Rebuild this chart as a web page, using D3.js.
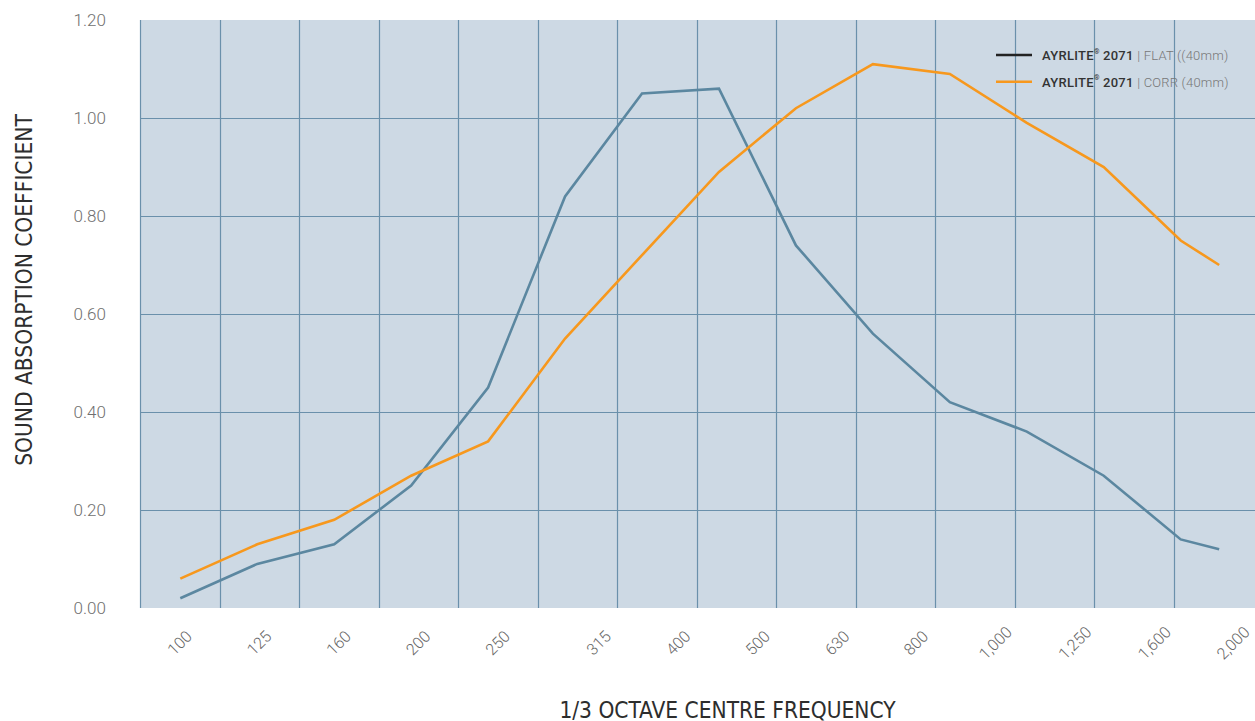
<!DOCTYPE html>
<html>
<head>
<meta charset="utf-8">
<script src="https://cdn.jsdelivr.net/npm/d3@7"></script>
<style>
  html, body { margin: 0; padding: 0; background: #ffffff; }
  svg { display: block; }
</style>
</head>
<body>
<svg id="chart" width="1255" height="721"></svg>
<script>
// ---- data ----
const categories = ["100", "125", "160", "200", "250", "315", "400", "500", "630", "800", "1,000", "1,250", "1,600", "2,000"];
// label slot positions (in category units) as placed in the reference
const labelSlots = [0, 1, 2, 3, 4, 5.27, 6.27, 7.27, 8.27, 9.26, 10.26, 11.26, 12.26, 13.25];
// measurement point slots (the 15th point sits half a step after the 14th)
const pointSlots = [0, 1, 2, 3, 4, 5, 6, 7, 8, 9, 10, 11, 12, 13, 13.5];
const flatValues = [0.02, 0.09, 0.13, 0.25, 0.45, 0.84, 1.05, 1.06, 0.74, 0.56, 0.42, 0.36, 0.27, 0.14, 0.12];
const corrValues = [0.06, 0.13, 0.18, 0.27, 0.34, 0.55, 0.72, 0.89, 1.02, 1.11, 1.09, 0.99, 0.90, 0.75, 0.70];
const yTicks = [0, 0.2, 0.4, 0.6, 0.8, 1.0, 1.2];
const gridValues = [0.2, 0.4, 0.6, 0.8, 1.0];
const seriesNames = [
  { bold: "AYRLITE", reg: "2071", rest: "| FLAT ((40mm)" },
  { bold: "AYRLITE", reg: "2071", rest: "| CORR (40mm)" }
];

// ---- layout ----
const plot = { left: 140, right: 1253, top: 20, bottom: 608 };
const svg = d3.select("#chart");

const xBand = d3.scaleBand().domain(categories).range([plot.left, plot.right]).paddingInner(0).paddingOuter(0);
const bw = xBand.bandwidth();
const xSlot = d3.scaleLinear().domain([0, 1]).range([plot.left + bw / 2, plot.left + bw * 1.5]);
const xPoint = d3.scaleLinear().domain([0, 13]).range([180.3, 1180.7]);
const y = d3.scaleLinear().domain([0, 1.2]).range([plot.bottom, plot.top]);

// background
svg.append("rect")
  .attr("x", plot.left).attr("y", plot.top)
  .attr("width", plot.right - plot.left + 2).attr("height", plot.bottom - plot.top)
  .attr("fill", "#cdd9e4");

// grid
const gridColor = "#6a90ab";
svg.append("g").selectAll("line.v").data(categories).join("line")
  .attr("x1", d => Math.round(xBand(d)) + 0.5).attr("x2", d => Math.round(xBand(d)) + 0.5)
  .attr("y1", plot.top).attr("y2", plot.bottom)
  .attr("stroke", gridColor).attr("stroke-width", 1.2);
svg.append("g").selectAll("line.h").data(gridValues).join("line")
  .attr("x1", plot.left).attr("x2", plot.right + 2)
  .attr("y1", d => Math.round(y(d)) + 0.5).attr("y2", d => Math.round(y(d)) + 0.5)
  .attr("stroke", gridColor).attr("stroke-width", 1.2);

// y tick labels
svg.append("g").selectAll("text").data(yTicks).join("text")
  .attr("x", 73.5).attr("y", d => y(d))
  .attr("dominant-baseline", "central")
  .attr("font-family", "Roboto, sans-serif").attr("font-weight", 300)
  .attr("font-size", 17).attr("fill", "#6f6f6f")
  .text(d => d.toFixed(2));

// x tick labels
svg.append("g").selectAll("text").data(categories).join("text")
  .attr("transform", (d, i) => `translate(${xSlot(labelSlots[i])},643) rotate(-45)`)
  .attr("text-anchor", "middle").attr("dominant-baseline", "central")
  .attr("font-family", "Roboto, sans-serif").attr("font-weight", 300)
  .attr("font-size", 16).attr("fill", "#666666")
  .text(d => d);

// axis titles
const titleFont = "'Liberation Sans Narrow', 'DejaVu Sans Condensed', Roboto, sans-serif";
svg.append("text")
  .attr("x", 727.5).attr("y", 717.5)
  .attr("text-anchor", "middle")
  .attr("font-family", titleFont).attr("font-size", 22.5).attr("fill", "#2d2d2d")
  .text("1/3 OCTAVE CENTRE FREQUENCY");
svg.append("text")
  .attr("transform", "translate(31.5,290) rotate(-90)")
  .attr("text-anchor", "middle")
  .attr("font-family", titleFont).attr("font-size", 22.5).attr("fill", "#2d2d2d")
  .text("SOUND ABSORPTION COEFFICIENT");

// lines
const line = d3.line().x((d, i) => xPoint(pointSlots[i])).y(d => y(d));
svg.append("path").datum(flatValues).attr("d", line)
  .attr("fill", "none").attr("stroke", "#5b87a0").attr("stroke-width", 2.6).attr("stroke-linejoin", "miter");
svg.append("path").datum(corrValues).attr("d", line)
  .attr("fill", "none").attr("stroke", "#f7981d").attr("stroke-width", 2.6).attr("stroke-linejoin", "miter");

// legend
const legendColors = ["#222222", "#f7981d"];
const lg = svg.append("g").selectAll("g").data(seriesNames).join("g")
  .attr("transform", (d, i) => `translate(996,${55 + i * 26.7})`);
lg.append("line").attr("x1", 0).attr("x2", 36).attr("y1", 0).attr("y2", 0)
  .attr("stroke", (d, i) => legendColors[i]).attr("stroke-width", 2.4);
const lt = lg.append("text").attr("x", 46).attr("y", 0).attr("dominant-baseline", "central")
  .attr("font-family", "Roboto, sans-serif").attr("font-size", 13);
lt.append("tspan").attr("font-weight", 500).attr("fill", "#333").attr("letter-spacing", 0.3).text(d => d.bold);
lt.append("tspan").attr("font-weight", 500).attr("fill", "#333").attr("font-size", 7).attr("dy", -3.5).text("®");
lt.append("tspan").attr("font-weight", 500).attr("fill", "#333").attr("dy", 3.5).attr("letter-spacing", 0.3).text(d => " " + d.reg + " ");
lt.append("tspan").attr("font-weight", 300).attr("fill", "#777").attr("letter-spacing", 0.2).text(d => d.rest);
</script>
</body>
</html>
